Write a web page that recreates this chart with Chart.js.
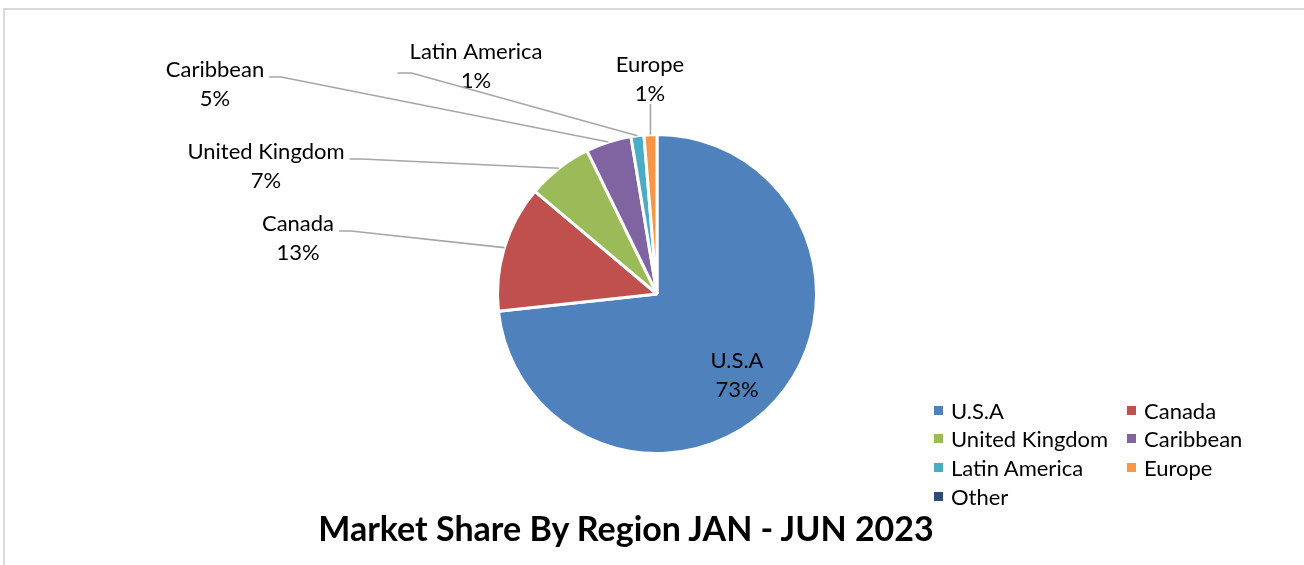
<!DOCTYPE html>
<html>
<head>
<meta charset="utf-8">
<script src="https://cdn.jsdelivr.net/npm/chart.js@4.4.1/dist/chart.umd.min.js"></script>
<style>
  html, body { margin: 0; padding: 0; background: #fff; }
  body { width: 1304px; height: 565px; position: relative; overflow: hidden; font-family: Lato, "Open Sans", sans-serif; }
  #frame { position: absolute; left: 3px; top: 8px; width: 1310px; height: 570px; border-top: 2px solid #d9d9d9; border-left: 2px solid #d9d9d9; }
  #wrap { position: absolute; left: 0; top: 0; width: 1304px; height: 565px; }
  #title { position: absolute; left: 226px; width: 800px; top: 507px; text-align: center; font-weight: bold; font-size: 34px; color: #000; }
  #legend { position: absolute; left: 930px; top: 396px; display: grid; grid-template-columns: 193px 160px; row-gap: 0; }
  .item { height: 28.6px; display: flex; align-items: center; font-size: 22px; color: #000; white-space: nowrap; }
  .box { width: 9px; height: 9px; margin: 0 8px 0 4px; flex: none; }
</style>
</head>
<body>
<div id="frame"></div>
<div id="wrap"><canvas id="pie" width="1304" height="565"></canvas></div>
<div id="legend"></div>
<div id="title">Market Share By Region JAN - JUN 2023</div>
<script>
// data (percent of total)
const regions = ['U.S.A', 'Canada', 'United Kingdom', 'Caribbean', 'Latin America', 'Europe', 'Other'];
const shares = [72.9, 12.8, 6.6, 4.6, 1.3, 1.3, 0];
const shownPct = ['73%', '13%', '7%', '5%', '1%', '1%', ''];
const colors = ['#4F81BD', '#C0504D', '#9BBB59', '#8064A2', '#4BACC6', '#F79646', '#2C4D75'];

// label block centres, relative to pie centre, and where the leader line leaves the text
const labelSpots = [
    { dx: 80, dy: 81, lead: null },
    { dx: -359, dy: -56, lead: 'right' },
    { dx: -391, dy: -128, lead: 'right' },
    { dx: -442, dy: -210, lead: 'right' },
    { dx: -181, dy: -228, lead: 'left' },
    { dx: -7, dy: -215, lead: 'bottom' },
    null
];

const labelFont = '22px Lato, "Open Sans", sans-serif';
const lineGap = 29;

const pieLabels = {
    id: 'pieLabels',
    afterDatasetsDraw(chart) {
        const ctx = chart.ctx;
        const arcs = chart.getDatasetMeta(0).data;
        ctx.save();
        ctx.font = labelFont;
        ctx.textAlign = 'center';
        ctx.textBaseline = 'middle';
        arcs.forEach((arc, i) => {
            const spot = labelSpots[i];
            if (!spot || !shares[i]) return;
            const cx = arc.x + spot.dx;
            const cy = arc.y + spot.dy;
            const line1 = regions[i];
            ctx.fillStyle = '#000';
            ctx.fillText(line1, cx, cy - lineGap / 2);
            ctx.fillText(shownPct[i], cx, cy + lineGap / 2);
            if (!spot.lead) return;

            // leader line to the middle of the slice's outer edge
            const mid = (arc.startAngle + arc.endAngle) / 2;
            const ex = arc.x + Math.cos(mid) * arc.outerRadius;
            const ey = arc.y + Math.sin(mid) * arc.outerRadius;
            const w1 = ctx.measureText(line1).width;
            let sx, sy, kx, ky;
            if (spot.lead === 'right') {
                sx = cx + w1 / 2 + 5; sy = cy - 7; kx = sx + 12; ky = sy;
            } else if (spot.lead === 'left') {
                sx = cx - w1 / 2 - 12; sy = cy + 7; kx = sx + 14; ky = sy;
            } else {
                sx = ex; sy = cy + 25; kx = sx; ky = sy;
            }
            ctx.strokeStyle = '#a6a6a6';
            ctx.lineWidth = 1.6;
            ctx.beginPath();
            ctx.moveTo(sx, sy);
            ctx.lineTo(kx, ky);
            ctx.lineTo(ex, ey);
            ctx.stroke();
        });
        ctx.restore();
    }
};

new Chart(document.getElementById('pie'), {
    type: 'pie',
    data: {
        labels: regions,
        datasets: [{
            data: shares,
            backgroundColor: colors,
            borderColor: '#ffffff',
            borderWidth: 3
        }]
    },
    options: {
        responsive: false,
        animation: false,
        layout: { padding: { left: 496, right: 486, top: 133, bottom: 110 } },
        plugins: {
            legend: { display: false },
            tooltip: { enabled: false },
            title: { display: false }
        }
    },
    plugins: [pieLabels]
});

// legend, two columns, row by row
const legendBox = document.getElementById('legend');
regions.forEach((name, i) => {
    const item = document.createElement('div');
    item.className = 'item';
    item.innerHTML = `<span class="box" style="background:${colors[i]}"></span><span>${name}</span>`;
    legendBox.appendChild(item);
});
</script>
</body>
</html>
